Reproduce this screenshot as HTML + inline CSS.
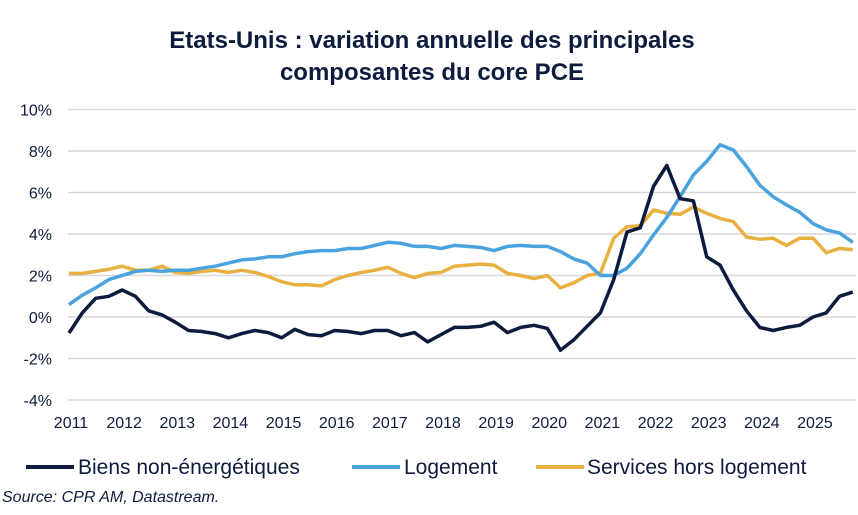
<!DOCTYPE html>
<html><head><meta charset="utf-8"><style>
body{margin:0;background:#fff;width:858px;height:510px;overflow:hidden;font-family:"Liberation Sans",sans-serif;color:#0d1b3e}
</style></head><body>
<svg width="858" height="510" viewBox="0 0 858 510">
<text x="432" y="48" text-anchor="middle" font-size="24" font-weight="bold" fill="#0d1b3e">Etats-Unis : variation annuelle des principales</text>
<text x="432" y="80" text-anchor="middle" font-size="24" font-weight="bold" fill="#0d1b3e">composantes du core PCE</text>
<g id="grid"></g>
<g id="yticks"></g>
<g id="xticks"></g>
<g id="series"></g>
<g>
<g><line x1="26" y1="467" x2="74" y2="467" stroke="#0d1b3e" stroke-width="4"/><text x="78" y="474" font-size="21" fill="#0d1b3e">Biens non-énergétiques</text></g>
<g><line x1="352" y1="467" x2="400" y2="467" stroke="#4aa3df" stroke-width="4"/><text x="404" y="474" font-size="21" fill="#0d1b3e">Logement</text></g>
<g><line x1="536" y1="467" x2="584" y2="467" stroke="#e8b040" stroke-width="4"/><text x="587" y="474" font-size="21" fill="#0d1b3e">Services hors logement</text></g>
</g>
<text x="2" y="502" font-size="16" font-style="italic" fill="#0d1b3e">Source: CPR AM, Datastream.</text>
</svg>
<script>
const yTicks=[10,8,6,4,2,0,-2,-4];
const yTickLabels=["10%","8%","6%","4%","2%","0%","-2%","-4%"];
const xYears=[2011,2012,2013,2014,2015,2016,2017,2018,2019,2020,2021,2022,2023,2024,2025];
const startYear=2011;
const stepYears=0.25;
const biens=[-0.77,0.2,0.9,1.0,1.3,1.0,0.3,0.1,-0.25,-0.65,-0.7,-0.8,-1.0,-0.8,-0.65,-0.75,-1.0,-0.6,-0.85,-0.9,-0.65,-0.7,-0.8,-0.65,-0.65,-0.9,-0.75,-1.2,-0.85,-0.5,-0.5,-0.45,-0.25,-0.75,-0.5,-0.4,-0.55,-1.6,-1.1,-0.45,0.2,1.8,4.1,4.3,6.3,7.3,5.7,5.6,2.9,2.5,1.3,0.3,-0.5,-0.65,-0.5,-0.4,0.0,0.2,1.0,1.2];
const logement=[0.6,1.05,1.4,1.8,2.0,2.2,2.25,2.2,2.25,2.25,2.35,2.45,2.6,2.75,2.8,2.9,2.9,3.05,3.15,3.2,3.2,3.3,3.3,3.45,3.6,3.55,3.4,3.4,3.3,3.45,3.4,3.35,3.2,3.4,3.45,3.4,3.4,3.15,2.8,2.6,2.0,2.0,2.35,3.05,3.95,4.8,5.8,6.85,7.5,8.3,8.05,7.25,6.35,5.8,5.4,5.05,4.5,4.2,4.05,3.6];
const services=[2.1,2.1,2.2,2.3,2.45,2.25,2.25,2.45,2.15,2.1,2.2,2.25,2.15,2.25,2.15,1.95,1.7,1.55,1.55,1.5,1.8,2.0,2.15,2.25,2.4,2.1,1.9,2.1,2.15,2.45,2.5,2.55,2.5,2.1,2.0,1.85,2.0,1.4,1.65,2.0,2.1,3.8,4.35,4.4,5.15,5.0,4.95,5.3,5.0,4.75,4.6,3.85,3.75,3.8,3.45,3.8,3.8,3.1,3.3,3.25];
const NS="http://www.w3.org/2000/svg";
const yS=v=>317-v*20.75;
const xS=t=>69+(t-2011)*53.14;
const grid=document.getElementById('grid'),yt=document.getElementById('yticks'),xt=document.getElementById('xticks'),sg=document.getElementById('series');
yTicks.forEach((v,i)=>{
 const l=document.createElementNS(NS,'line');
 
 
 l.setAttribute('x1',68);l.setAttribute('x2',856);l.setAttribute('y1',yS(v));l.setAttribute('y2',yS(v));
 l.setAttribute('stroke','#d9d9d9');l.setAttribute('stroke-width','1.5');grid.appendChild(l);
 const t=document.createElementNS(NS,'text');
 
 
 t.setAttribute('x',52);t.setAttribute('y',yS(v)+6);t.setAttribute('text-anchor','end');t.setAttribute('font-size','16');t.setAttribute('fill','#0d1b3e');
 t.textContent=yTickLabels[i];yt.appendChild(t);
});
xYears.forEach(y=>{
 const t=document.createElementNS(NS,'text');
 
 
 t.setAttribute('x',xS(y)+2);t.setAttribute('y',428);t.setAttribute('text-anchor','middle');t.setAttribute('font-size','16');t.setAttribute('fill','#0d1b3e');
 t.textContent=y;xt.appendChild(t);
});
function draw(arr,color,name){
 const p=document.createElementNS(NS,'polyline');
 
 
 p.setAttribute('points',arr.map((v,i)=>xS(startYear+i*stepYears).toFixed(1)+','+yS(v).toFixed(1)).join(' '));
 p.setAttribute('fill','none');p.setAttribute('stroke',color);p.setAttribute('stroke-width','3.5');p.setAttribute('stroke-linejoin','round');
 sg.appendChild(p);
}
draw(services,'#e8b040','line-services');
draw(logement,'#4aa3df','line-logement');
draw(biens,'#0d1b3e','line-biens');
</script>
</body></html>
